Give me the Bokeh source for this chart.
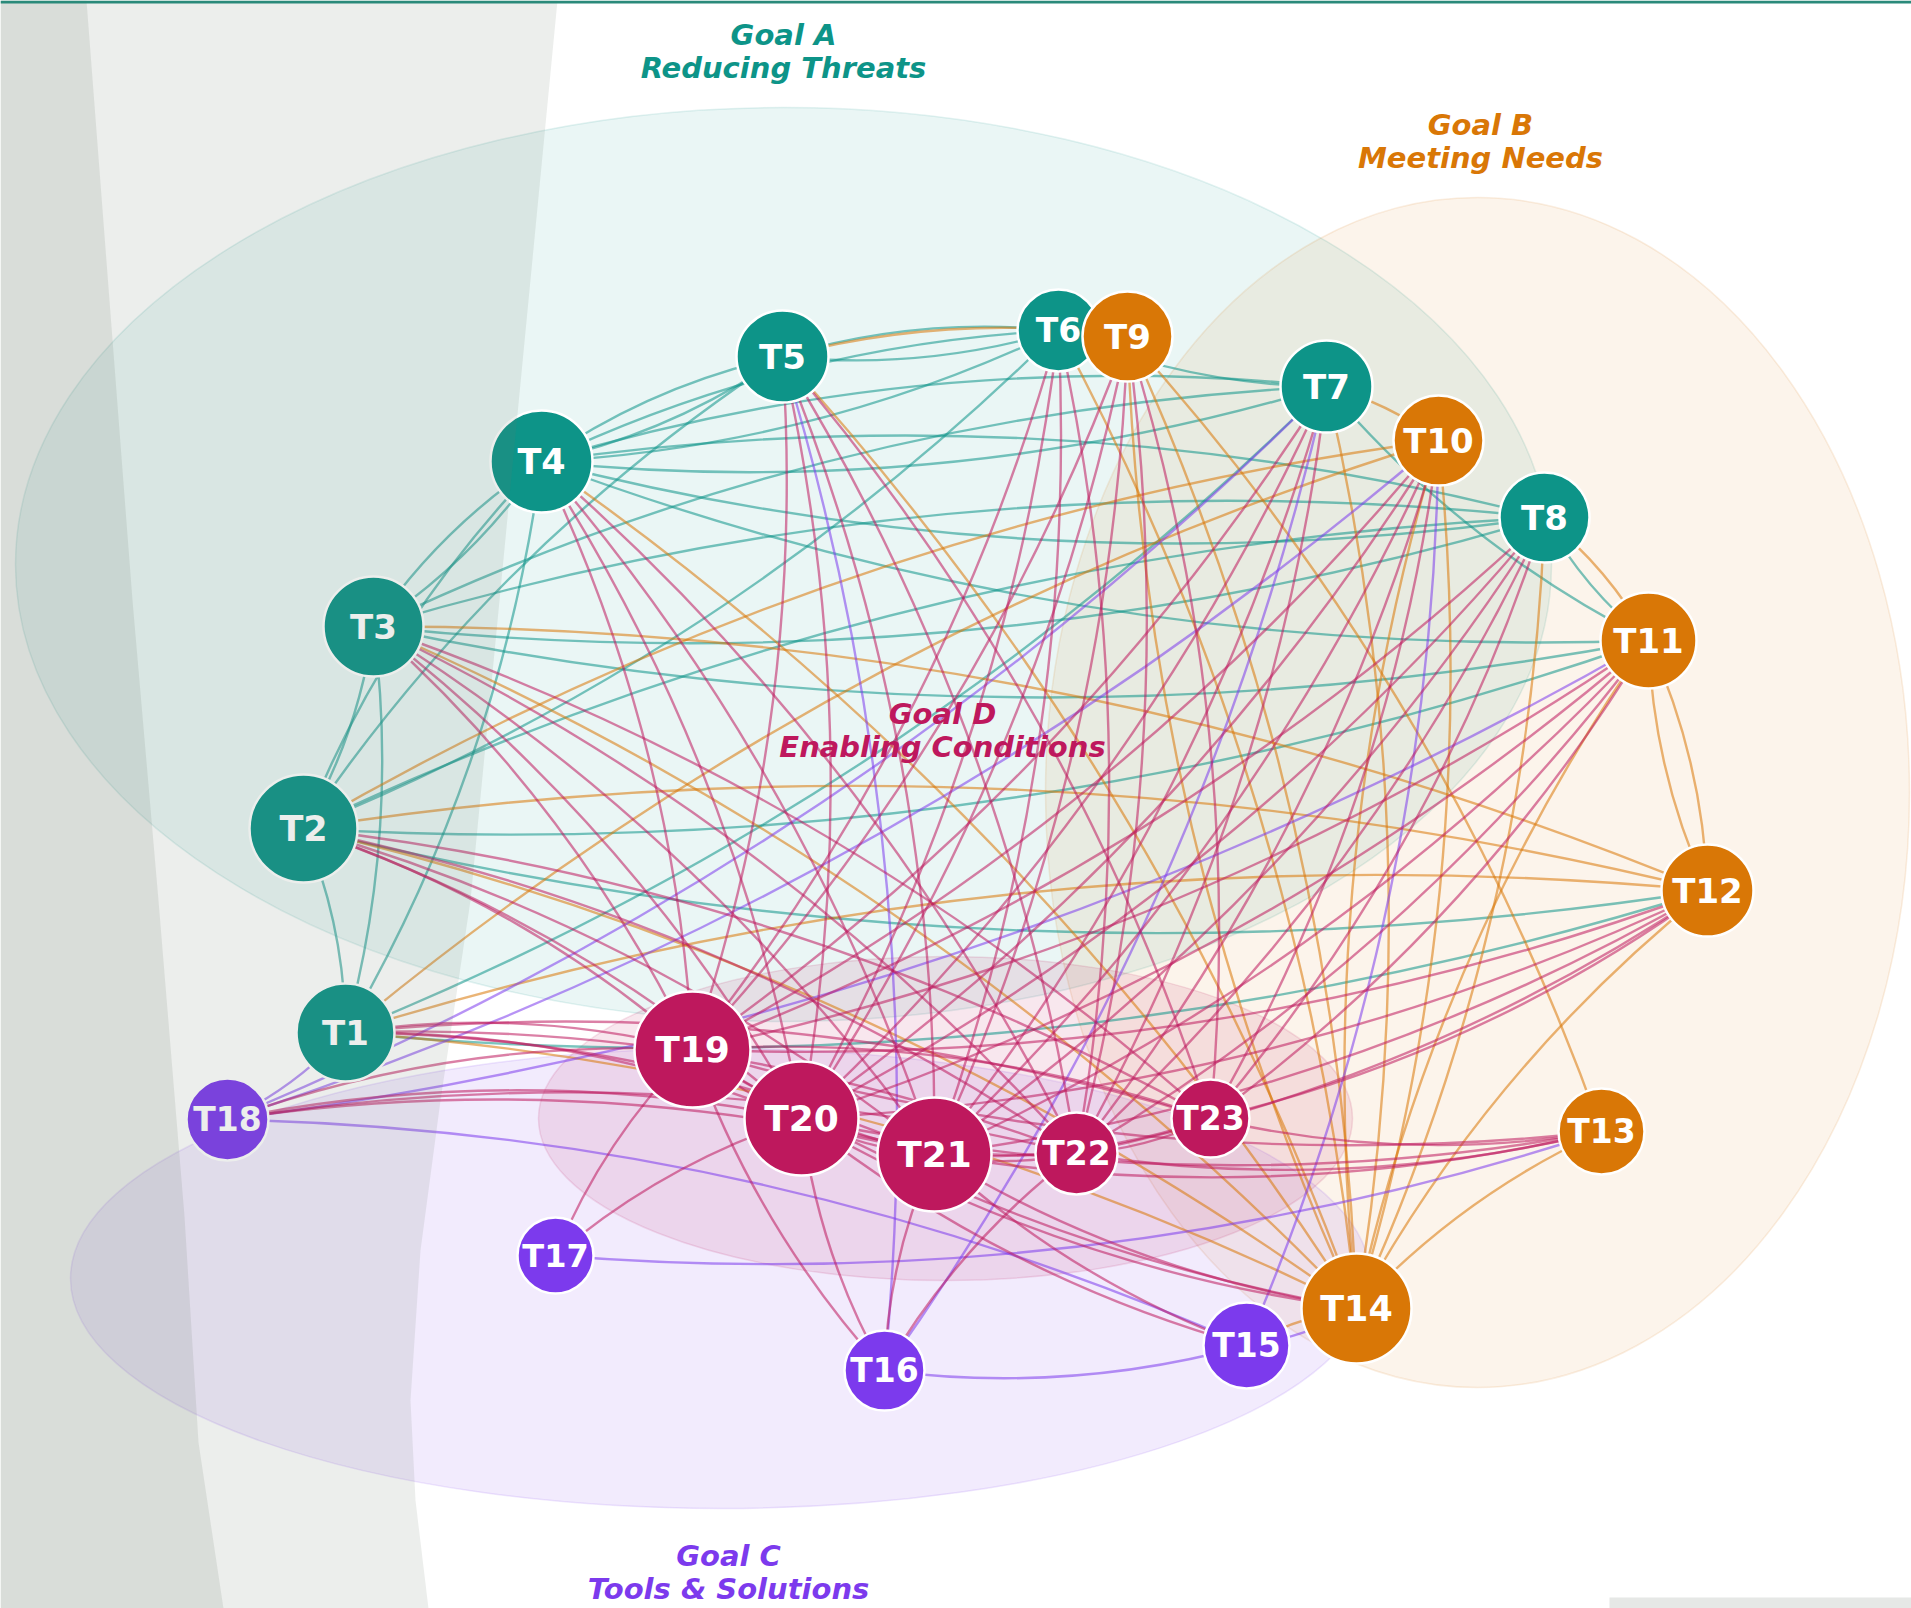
import numpy as np
from bokeh.plotting import figure
from bokeh.models import Range1d, ColumnDataSource
from bokeh.core.properties import value
from bokeh.embed import file_html
from bokeh.resources import INLINE

# ---------------- data ----------------
nodes = ["T1", "T2", "T3", "T4", "T5", "T6", "T7", "T8", "T9", "T10", "T11", "T12",
         "T13", "T14", "T15", "T16", "T17", "T18", "T19", "T20", "T21", "T22", "T23"]
node_goal = ["A"] * 8 + ["B"] * 6 + ["C"] * 4 + ["D"] * 5
node_x = [345, 303, 373, 541, 782, 1058, 1326, 1544, 1127, 1438, 1648, 1707,
          1601, 1356, 1246, 884, 555, 227, 692, 801, 934, 1076, 1210]
node_y = [1032, 828, 626, 461, 356, 330, 386, 517, 336, 440, 640, 890,
          1131, 1308, 1345, 1370, 1255, 1119, 1049, 1118, 1154, 1153, 1118]
node_weight = [49, 54, 50, 51, 46, 41, 46, 45, 45, 45, 48, 46,
               43, 55, 43, 40, 38, 41, 58, 57, 57, 41, 39]

goal_keys = ["A", "B", "C", "D"]
goal_line1 = ["Goal A", "Goal B", "Goal C", "Goal D"]
goal_line2 = ["Reducing Threats", "Meeting Needs", "Tools & Solutions", "Enabling Conditions"]
goal_colors = {"A": "#0d9488", "B": "#d97706", "C": "#7c3aed", "D": "#be185d"}

edges_A = [("T1", "T2"), ("T1", "T3"), ("T1", "T4"), ("T1", "T7"), ("T1", "T12"),
           ("T2", "T3"), ("T2", "T6"), ("T2", "T11"), ("T2", "T12"),
           ("T3", "T4"), ("T3", "T8"), ("T3", "T11"),
           ("T4", "T3"), ("T4", "T2"), ("T4", "T5"), ("T4", "T6"), ("T4", "T7"), ("T4", "T8"),
           ("T4", "T11"),
           ("T5", "T4"), ("T5", "T6"), ("T5", "T2"),
           ("T6", "T4"), ("T6", "T5"), ("T6", "T7"),
           ("T7", "T4"), ("T7", "T3"), ("T7", "T11"),
           ("T8", "T4"), ("T8", "T3"), ("T8", "T2"), ("T8", "T11")]
edges_B = [("T9", "T5"), ("T9", "T14"),
           ("T10", "T7"), ("T10", "T2"), ("T10", "T1"), ("T10", "T14"),
           ("T11", "T8"), ("T11", "T12"), ("T11", "T14"),
           ("T12", "T11"), ("T12", "T1"), ("T12", "T2"), ("T12", "T3"), ("T12", "T14"),
           ("T13", "T9"), ("T13", "T14"),
           ("T14", "T1"), ("T14", "T2"), ("T14", "T3"), ("T14", "T4"), ("T14", "T5"),
           ("T14", "T6"), ("T14", "T7"), ("T14", "T8"), ("T14", "T9"), ("T14", "T10"),
           ("T14", "T15")]
edges_C = [("T15", "T10"), ("T15", "T14"), ("T15", "T18"),
           ("T16", "T15"), ("T16", "T5"), ("T16", "T7"),
           ("T17", "T13"),
           ("T18", "T1"), ("T18", "T7"), ("T18", "T10"), ("T18", "T11")]
d_targets = {
    "T19": ["T1", "T2", "T3", "T4", "T5", "T6", "T7", "T8", "T9", "T10", "T11", "T12",
            "T13", "T14", "T16", "T17", "T18", "T20", "T21"],
    "T20": ["T1", "T2", "T3", "T4", "T5", "T6", "T7", "T8", "T9", "T10", "T11", "T12",
            "T13", "T14", "T15", "T16", "T17", "T18", "T21", "T22"],
    "T21": ["T1", "T2", "T3", "T4", "T5", "T6", "T7", "T8", "T9", "T10", "T11", "T12",
            "T13", "T14", "T15", "T16", "T18", "T22", "T23"],
    "T22": ["T1", "T2", "T3", "T4", "T5", "T6", "T7", "T8", "T9", "T10", "T11", "T12",
            "T13", "T16", "T18", "T23"],
    "T23": ["T1", "T2", "T3", "T5", "T8", "T9", "T10", "T11", "T12", "T13", "T19"],
}
edges_D = [(s, t) for s, ts in d_targets.items() for t in ts]
edges = edges_A + edges_B + edges_C + edges_D

# ---------------- figure ----------------
W, H = 1911, 1608
p = figure(width=W, height=H, x_range=Range1d(0, W), y_range=Range1d(H, 0),
           output_backend="svg", toolbar_location=None,
           x_axis_location=None, y_axis_location=None, min_border=0)
p.grid.visible = False
p.outline_line_color = None
p.background_fill_color = "white"
p.border_fill_color = "white"

# goal zones
zone_x = [783, 1477, 720, 945]
zone_y = [564, 792, 1278, 1118]
zone_w = [1536, 864, 1300, 814]
zone_h = [914, 1190, 460, 324]
zone_alpha = [0.085, 0.08, 0.1, 0.1]
for i, g in enumerate(goal_keys):
    p.ellipse(x=zone_x[i], y=zone_y[i], width=zone_w[i], height=zone_h[i],
              fill_color=goal_colors[g], fill_alpha=zone_alpha[i],
              line_color=goal_colors[g], line_alpha=0.12, line_width=1.5)

# edges
idx = {n: i for i, n in enumerate(nodes)}
RAD = 0.1
ex0 = np.array([node_x[idx[s]] for s, t in edges], dtype=float)
ey0 = np.array([node_y[idx[s]] for s, t in edges], dtype=float)
ex1 = np.array([node_x[idx[t]] for s, t in edges], dtype=float)
ey1 = np.array([node_y[idx[t]] for s, t in edges], dtype=float)
dx = ex1 - ex0
dy = ey1 - ey0
ecx = (ex0 + ex1) / 2 - RAD * dy
ecy = (ey0 + ey1) / 2 + RAD * dx
ecol = [goal_colors[node_goal[idx[s]]] for s, t in edges]
esrc = ColumnDataSource(dict(x0=ex0, y0=ey0, x1=ex1, y1=ey1, cx=ecx, cy=ecy, c=ecol))
p.quadratic(x0="x0", y0="y0", x1="x1", y1="y1", cx="cx", cy="cy", source=esrc,
            line_color="c", line_alpha=0.55, line_width=2.4)

# nodes
ncol = [goal_colors[g] for g in node_goal]
nsize = [2 * w for w in node_weight]
nfs = ["%.0fpx" % (26 + 0.17 * w) for w in node_weight]
nsrc = ColumnDataSource(dict(x=node_x, y=node_y, s=nsize, c=ncol, t=nodes, fs=nfs))
p.scatter(x="x", y="y", size="s", fill_color="c", line_color="white", line_width=2.5,
          source=nsrc)
p.text(x="x", y="y", text="t", text_font_size="fs", text_color="white",
       text_font=value("DejaVu Sans"), text_font_style="bold",
       text_align="center", text_baseline="middle", source=nsrc)

# goal titles
title_x = [783, 1480, 728, 942]
title_y = [34, 124, 1555, 713]
for i, g in enumerate(goal_keys):
    for k, txt in enumerate([goal_line1[i], goal_line2[i]]):
        p.text(x=[title_x[i]], y=[title_y[i] + 33 * k], text=[txt],
               text_font=value("DejaVu Sans"), text_font_style="bold italic",
               text_font_size="29px", text_color=goal_colors[g],
               text_align="center", text_baseline="middle")

# translucent left overlays (page backdrop)
light_x = [0, 557, 499, 470, 455, 440, 420, 410, 415, 428, 0]
light_y = [0, 0, 600, 900, 1000, 1100, 1250, 1400, 1500, 1608, 1608]
p.patch(x=light_x, y=light_y, fill_color="#6b7b6b", fill_alpha=0.13, line_color=None)
dark_x = [0, 86, 132, 158, 184, 198, 223, 0]
dark_y = [0, 0, 600, 900, 1216, 1442, 1608, 1608]
p.patch(x=dark_x, y=dark_y, fill_color="#6b7b6b", fill_alpha=0.14, line_color=None)

# top rule and bottom-right tab
p.quad(left=0, right=W, top=0, bottom=3, fill_color="#2a8a7a", line_color=None)
p.quad(left=1609, right=W, top=1597, bottom=H, fill_color="#e6e8e6", line_color=None)

open("out.html", "w").write(file_html(p, INLINE))
